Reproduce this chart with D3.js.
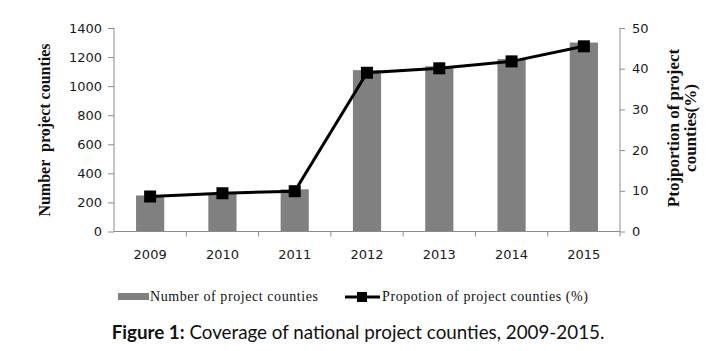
<!DOCTYPE html>
<html><head><meta charset="utf-8">
<script src="https://cdn.jsdelivr.net/npm/d3@7"></script>
<style>body{margin:0;background:#fff}svg{display:block}</style>
</head><body>
<svg id="c" width="720" height="351"></svg>
<script>
const years = ["2009","2010","2011","2012","2013","2014","2015"];
const counties = [248, 264, 290, 1110, 1136, 1186, 1300];
const proportion = [8.6, 9.4, 9.9, 39.0, 40.1, 41.8, 45.5];
const leftTicks = [0,200,400,600,800,1000,1200,1400];
const rightTicks = [0,10,20,30,40,50];

const svg = d3.select("#c");
const L = 114, R = 620, T = 28, B = 231.5;
const x = d3.scaleBand().domain(years).range([L, R]).paddingInner(0).paddingOuter(0);
const yL = d3.scaleLinear().domain([0,1400]).range([B, T]);
const yR = d3.scaleLinear().domain([0,50]).range([B, T]);
const axisColor = "#8c8c8c";
const tickFont = "DejaVu Sans, Verdana, sans-serif";
const serif = "Liberation Serif, Times New Roman, serif";

// bars
const bw = x.bandwidth() * 0.39;
svg.append("g").selectAll("rect").data(years).join("rect")
  .attr("x", (d) => x(d) + x.bandwidth()/2 - bw/2)
  .attr("y", (d,i) => yL(counties[i]))
  .attr("width", bw)
  .attr("height", (d,i) => B - yL(counties[i]))
  .attr("fill", "#808080");

// axes
const gL = svg.append("g").attr("transform", `translate(${L},0)`)
  .call(d3.axisLeft(yL).tickValues(leftTicks).tickSize(6).tickPadding(6).tickFormat(d3.format("d")));
const gR = svg.append("g").attr("transform", `translate(${R},0)`)
  .call(d3.axisRight(yR).tickValues(rightTicks).tickSize(5).tickPadding(7));
const gX = svg.append("g").attr("transform", `translate(0,${B})`)
  .call(d3.axisBottom(x).tickSize(0).tickPadding(18));
gX.selectAll(".bt").data(years.slice(1)).join("line").attr("class","bt")
  .attr("x1", d => x(d)).attr("x2", d => x(d)).attr("y1", 0).attr("y2", 5)
  .attr("stroke", axisColor);
gX.append("line").attr("x1", R).attr("x2", R).attr("y1", 0).attr("y2", 5).attr("stroke", axisColor);
[gL,gR,gX].forEach(g => {
  g.select(".domain").attr("stroke", axisColor);
  g.selectAll(".tick line").attr("stroke", axisColor);
  g.selectAll("text").attr("font-family", tickFont).attr("font-size", 13).attr("fill", "#1a1a1a");
});
gL.select(".domain").attr("d", `M0,${T}V${B}`);
gR.select(".domain").attr("d", `M0,${T}V${B}`);
gX.select(".domain").attr("d", `M${L},0H${R}`);

// line
const cx = (d) => x(d) + x.bandwidth()/2;
const line = d3.line().x((d,i) => cx(years[i])).y(d => yR(d));
svg.append("path").datum(proportion).attr("d", line)
  .attr("fill","none").attr("stroke","#000").attr("stroke-width",3);
const ms = 12;
svg.append("g").selectAll("rect").data(proportion).join("rect")
  .attr("x", (d,i) => cx(years[i]) - ms/2).attr("y", d => yR(d) - ms/2)
  .attr("width", ms).attr("height", ms).attr("fill", "#000");

// axis titles
svg.append("text").attr("transform", "translate(50,130) rotate(-90)")
  .attr("text-anchor","middle").attr("font-family",serif)
  .attr("font-weight","bold").attr("font-size",16).attr("fill","#111")
  .style("white-space","pre")
  .text("Number  project counties");
const rt = svg.append("text").attr("transform", "translate(679,128) rotate(-90)")
  .attr("text-anchor","middle").attr("font-family",serif)
  .attr("font-weight","bold").attr("font-size",17).attr("fill","#111");
rt.append("tspan").attr("x",0).attr("dy",0).text("Ptojportion of project");
rt.append("tspan").attr("x",0).attr("dy",17).text("counties(%)");

// legend
const ly = 297;
svg.append("rect").attr("x",118).attr("y",ly-4).attr("width",31).attr("height",7).attr("fill","#808080");
svg.append("text").attr("x",150).attr("y",ly+4).attr("font-family",serif)
  .attr("font-size",14).attr("fill","#111")
  .attr("textLength",168).attr("lengthAdjust","spacing").text("Number of project counties");
svg.append("line").attr("x1",345).attr("x2",380).attr("y1",ly).attr("y2",ly).attr("stroke","#000").attr("stroke-width",3);
svg.append("rect").attr("x",357).attr("y",ly-5).attr("width",10).attr("height",10).attr("fill","#000");
svg.append("text").attr("x",382).attr("y",ly+4).attr("font-family",serif)
  .attr("font-size",14).attr("fill","#111")
  .attr("textLength",206).attr("lengthAdjust","spacing").text("Propotion of project counties (%)");

// caption
const cap = svg.append("text").attr("x",358).attr("y",339).attr("text-anchor","middle")
  .attr("font-family","Lato, Open Sans, sans-serif").attr("font-size",18.8).attr("fill","#111");
cap.append("tspan").attr("font-weight","bold").text("Figure 1:");
cap.append("tspan").text(" Coverage of national project counties, 2009-2015.");
</script>
</body></html>
